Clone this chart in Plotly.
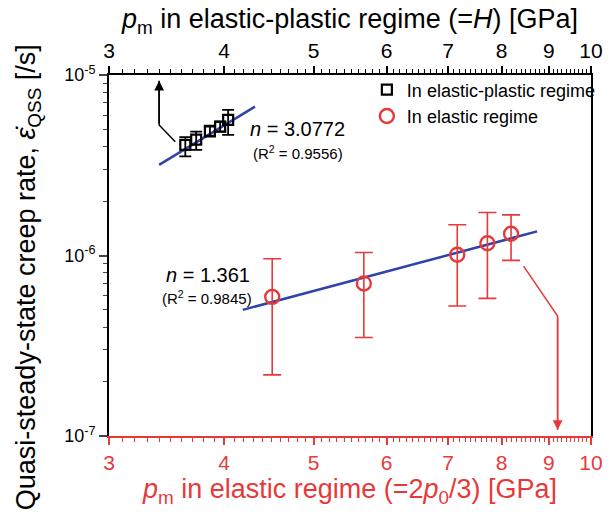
import math
import plotly.graph_objects as go

# ---- data ----
ep_x = [3.63, 3.73, 3.86, 3.96, 4.04]
ep_y = [4.10e-6, 4.38e-6, 4.91e-6, 5.18e-6, 5.64e-6]
ep_hi = [4.53e-6, 4.86e-6, 5.18e-6, 5.52e-6, 6.41e-6]
ep_lo = [3.54e-6, 3.85e-6, 4.56e-6, 4.86e-6, 4.66e-6]

el_x = [4.51, 5.67, 7.16, 7.72, 8.19]
el_y = [5.9e-7, 7.0e-7, 1.01e-6, 1.17e-6, 1.32e-6]
el_hi = [9.6e-7, 1.04e-6, 1.48e-6, 1.73e-6, 1.68e-6]
el_lo = [2.18e-7, 3.51e-7, 5.25e-7, 5.79e-7, 9.4e-7]

fit_ep_x = [3.40, 4.32]
fit_ep_y = [3.18e-6, 6.68e-6]
fit_el_x = [4.19, 8.74]
fit_el_y = [5.0e-7, 1.36e-6]

arrow_ep_x = [3.54, 3.40, 3.40]
arrow_ep_y = [4.27e-6, 5.28e-6, 9.3e-6]
arrow_el_x = [8.45, 9.2, 9.2]
arrow_el_y = [8.73e-7, 4.62e-7, 1.08e-7]

x_ticks = [3, 4, 5, 6, 7, 8, 9, 10]
x_minor = [round(3 + 0.1 * i, 1) for i in range(1, 70) if i % 10 != 0]
y_ticks = [1e-7, 1e-6, 1e-5]
y_ticktext = ["10<sup>-7</sup>", "10<sup>-6</sup>", "10<sup>-5</sup>"]
y_minor = [m * 10.0 ** e for e in (-7, -6) for m in range(2, 10)]

RED = "rgb(230,58,58)"
BLUE = "rgb(48,66,172)"
FONT = "Liberation Sans, Arial, sans-serif"


def errs(y, hi, lo):
    return [h - v for v, h in zip(y, hi)], [v - l for v, l in zip(y, lo)]


fig = go.Figure()

# fit lines
fig.add_trace(go.Scatter(x=fit_ep_x, y=fit_ep_y, xaxis="x2", mode="lines",
                         line=dict(color=BLUE, width=2.5), showlegend=False))
fig.add_trace(go.Scatter(x=fit_el_x, y=fit_el_y, mode="lines",
                         line=dict(color=BLUE, width=2.5), showlegend=False))

# arrow polylines
fig.add_trace(go.Scatter(x=arrow_ep_x, y=arrow_ep_y, xaxis="x2", mode="lines",
                         line=dict(color="black", width=1.5), showlegend=False))
fig.add_trace(go.Scatter(x=arrow_el_x, y=arrow_el_y, mode="lines",
                         line=dict(color=RED, width=1.5), showlegend=False))

ep_p, ep_m = errs(ep_y, ep_hi, ep_lo)
fig.add_trace(go.Scatter(
    x=ep_x, y=ep_y, xaxis="x2", mode="markers", name="In elastic-plastic regime",
    marker=dict(symbol="square-open", size=10, color="black", line=dict(width=2.2)),
    error_y=dict(type="data", symmetric=False, array=ep_p, arrayminus=ep_m,
                 color="black", thickness=1.8, width=6)))

el_p, el_m = errs(el_y, el_hi, el_lo)
fig.add_trace(go.Scatter(
    x=el_x, y=el_y, mode="markers", name="In elastic regime",
    marker=dict(symbol="circle-open", size=14, color=RED, line=dict(width=2.4)),
    error_y=dict(type="data", symmetric=False, array=el_p, arrayminus=el_m,
                 color=RED, thickness=1.6, width=9)))

xr = [math.log10(3), math.log10(10)]
yr = [-7, -5]

common_x = dict(type="log", range=xr, tickvals=x_ticks, ticktext=[str(t) for t in x_ticks],
                ticks="outside", ticklen=7, tickwidth=1.5, showgrid=False, zeroline=False,
                minor=dict(tickvals=x_minor, ticks="outside", ticklen=4, tickwidth=1),
                tickfont=dict(size=21, family=FONT), mirror=False, showline=True, linewidth=2)

fig.update_layout(
    width=615, height=521,
    margin=dict(l=109, r=13, t=75, b=85),
    paper_bgcolor="white", plot_bgcolor="white",
    font=dict(family=FONT, color="black"),
    xaxis=dict(**common_x, linecolor=RED, tickcolor=RED,
               title=dict(text="<i>p</i><sub>m</sub> in elastic regime (=2<i>p</i><sub>0</sub>/3) [GPa]",
                          font=dict(size=27, color=RED, family=FONT), standoff=4),
               tickfont_color=RED),
    xaxis2=dict(**common_x, overlaying="x", side="top", anchor="y", linecolor="black",
                tickcolor="black",
                title=dict(text="<i>p</i><sub>m</sub> in elastic-plastic regime (=<i>H</i>) [GPa]",
                           font=dict(size=27, color="black", family=FONT), standoff=2)),
    yaxis=dict(type="log", range=yr, tickvals=y_ticks, ticktext=y_ticktext,
               ticks="outside", ticklen=8, tickwidth=1.5, showgrid=False, zeroline=False,
               showline=True, linecolor="black", linewidth=2, mirror=False,
               minor=dict(tickvals=y_minor, ticks="outside", ticklen=4, tickwidth=1),
               tickfont=dict(size=18, family=FONT)),
    yaxis2=dict(overlaying="y", side="right", showline=True, linecolor="black",
                linewidth=2, showticklabels=False, ticks="", range=[0, 1], showgrid=False,
                zeroline=False),
    legend=dict(x=0.535, y=1.01, xanchor="left", yanchor="top", bgcolor="rgba(0,0,0,0)",
                font=dict(size=18, family=FONT), itemwidth=30, tracegroupgap=0),
    showlegend=True,
)

# invisible trace to draw the right spine
fig.add_trace(go.Scatter(x=[None], y=[None], yaxis="y2", showlegend=False))

ann = [
    dict(x=math.log10(arrow_ep_x[-1]), y=math.log10(arrow_ep_y[-1]), xref="x2", yref="y",
         ax=math.log10(arrow_ep_x[-2]), ay=math.log10(arrow_ep_y[-2]), axref="x2", ayref="y",
         showarrow=True, arrowhead=2, arrowsize=1.3, arrowwidth=1.5, arrowcolor="black", text=""),
    dict(x=math.log10(arrow_el_x[-1]), y=math.log10(arrow_el_y[-1]), xref="x", yref="y",
         ax=math.log10(arrow_el_x[-2]), ay=math.log10(arrow_el_y[-2]), axref="x", ayref="y",
         showarrow=True, arrowhead=2, arrowsize=1.3, arrowwidth=1.5, arrowcolor=RED, text=""),
    dict(x=math.log10(4.24), y=math.log10(4.89e-6), xref="x2", yref="y", xanchor="left",
         yshift=2, text="<i>n</i> = 3.0772", showarrow=False, font=dict(size=20, family=FONT)),
    dict(x=math.log10(4.28), y=math.log10(3.81e-6), xref="x2", yref="y", xanchor="left",
         yshift=-2, text="(R<sup>2</sup> = 0.9556)", showarrow=False, font=dict(size=15, family=FONT)),
    dict(x=math.log10(4.29), y=math.log10(7.63e-7), xref="x", yref="y", xanchor="right",
         yshift=2, text="<i>n</i> = 1.361", showarrow=False, font=dict(size=20, family=FONT)),
    dict(x=math.log10(4.31), y=math.log10(5.97e-7), xref="x", yref="y", xanchor="right",
         yshift=-2, text="(R<sup>2</sup> = 0.9845)", showarrow=False, font=dict(size=15, family=FONT)),
    dict(x=-0.168, y=0.44, xref="paper", yref="paper", textangle=-90, showarrow=False,
         xanchor="center", yanchor="middle",
         text="Quasi-steady-state creep rate, <i>ε̇</i><sub>QSS</sub> [/s]",
         font=dict(size=27, family=FONT, color="black")),
]
fig.update_layout(annotations=ann)

fig.write_html("out.html")
